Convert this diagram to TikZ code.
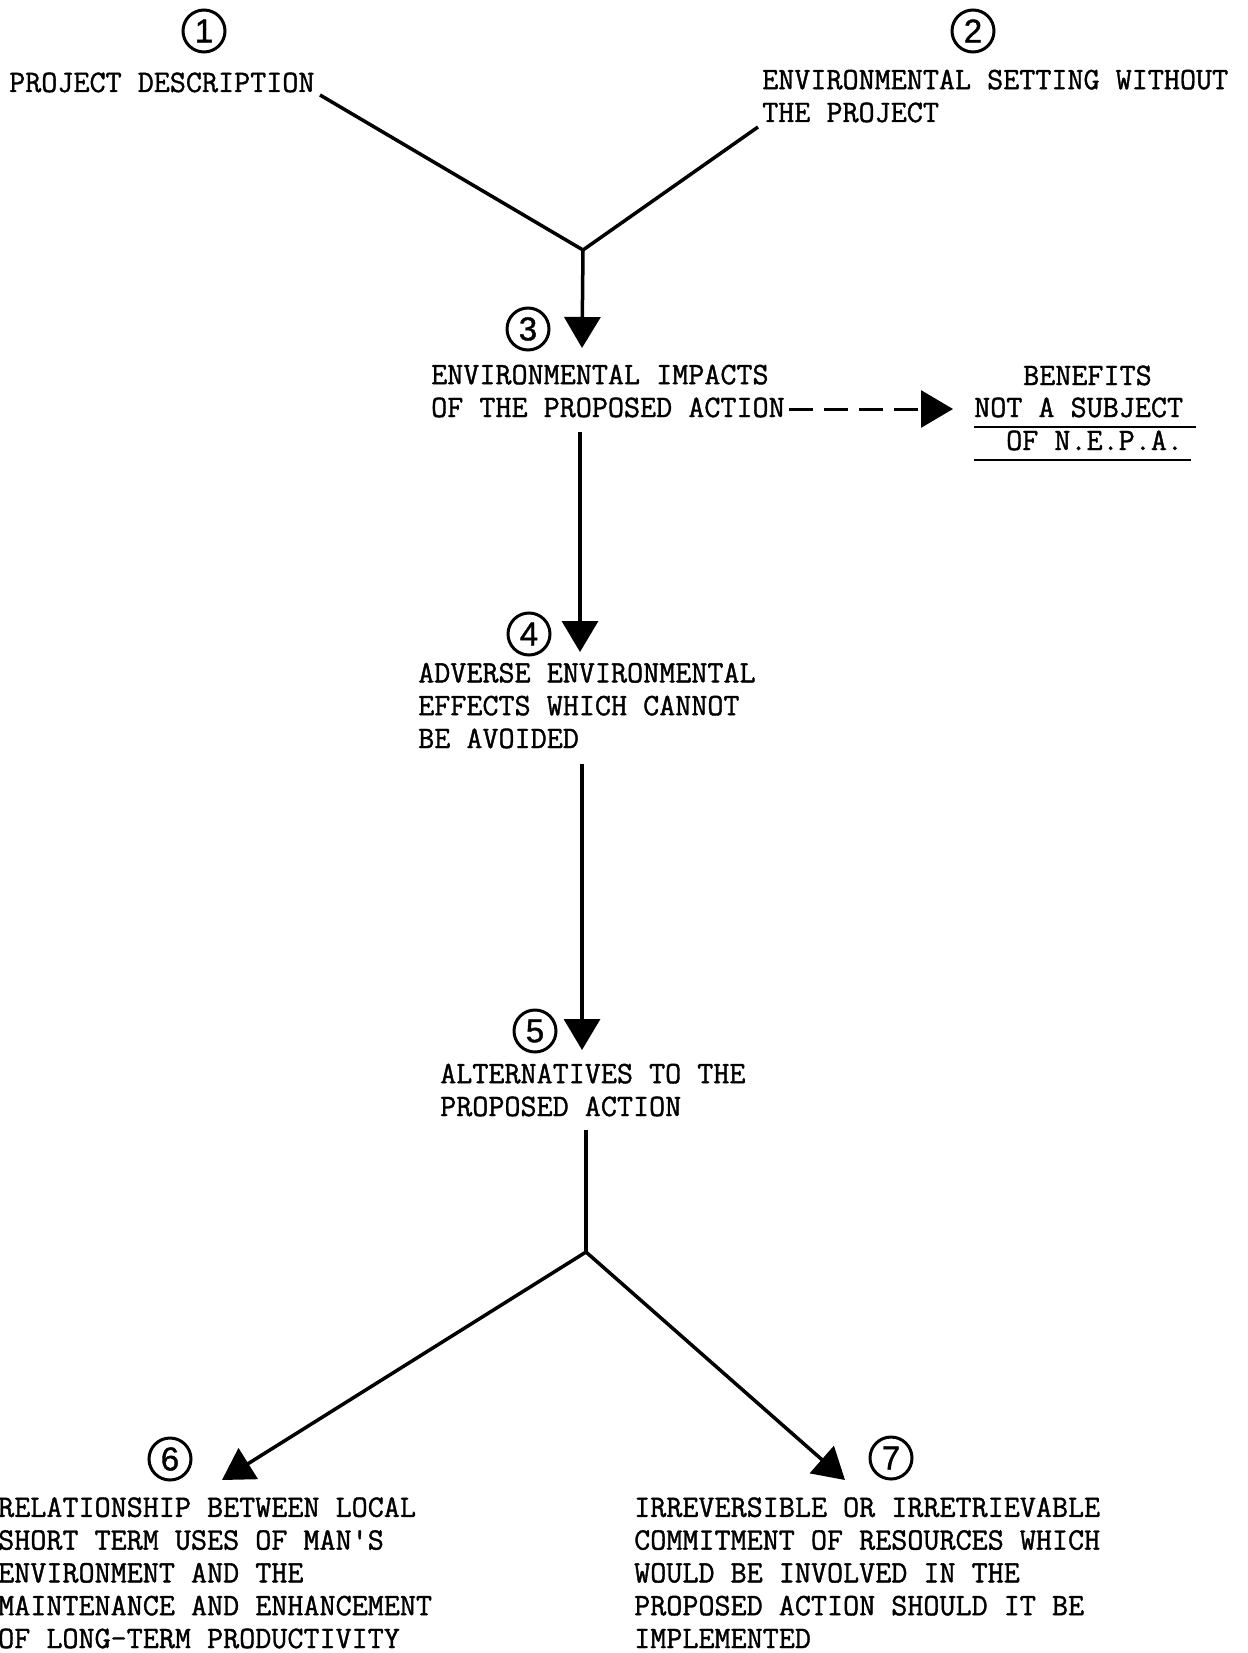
\documentclass[tikz,border=0pt]{standalone}
\usepackage{fontspec}
\setmonofont{Latin Modern Mono}[FakeBold=1.2]
\newfontfamily\digitfont{Liberation Sans}[FakeBold=1.2]
\usetikzlibrary{arrows.meta}
\begin{document}
\begin{tikzpicture}[x=1pt,y=-1pt,
  txt/.style={font=\ttfamily\fontsize{31.2}{32.8}\selectfont, inner sep=0pt, anchor=base west, align=left},
  num/.style={circle, draw, line width=3pt, minimum size=42pt, inner sep=0pt, font=\digitfont\fontsize{33}{33}\selectfont},
  conn/.style={line width=3.5pt},
  arr/.style={line width=3.5pt, -{Triangle[length=31pt,width=36pt]}},
  dasharr/.style={line width=3pt, dash pattern=on 24pt off 11pt, -{Triangle[length=32pt,width=37pt]}},
  uline/.style={line width=2.8pt}
]
\useasboundingbox (0,0) rectangle (1247,1653);

% circled numbers
\node[num] (c1) at (204,31) {1};
\node[num] (c2) at (973,31) {2};
\node[num] (c3) at (528,329) {3};
\node[num] (c4) at (529,634) {4};
\node[num] (c5) at (535,1031) {5};
\node[num] (c6) at (170,1459) {6};
\node[num] (c7) at (891,1458) {7};

% texts (anchor = baseline of the last line)
\node[txt] (t1) at (9,92) {PROJECT DESCRIPTION};
\node[txt] (t2) at (762,122) {ENVIRONMENTAL SETTING WITHOUT\\THE PROJECT};
\node[txt] (t3) at (431,417) {ENVIRONMENTAL IMPACTS\\OF THE PROPOSED ACTION};
\node[txt] (b1) at (1023,385) {BENEFITS};
\node[txt] (b2) at (974,417) {NOT A SUBJECT};
\node[txt] (b3) at (1006,450) {OF N.E.P.A.};
\node[txt] (t4) at (418,748) {ADVERSE ENVIRONMENTAL\\EFFECTS WHICH CANNOT\\BE AVOIDED};
\node[txt] (t5) at (440,1116) {ALTERNATIVES TO THE\\PROPOSED ACTION};
\node[txt] (t6) at (-2,1648) {RELATIONSHIP BETWEEN LOCAL\\SHORT TERM USES OF MAN'S\\ENVIRONMENT AND THE\\MAINTENANCE AND ENHANCEMENT\\OF LONG-TERM PRODUCTIVITY};
\node[txt] (t7) at (634,1648) {IRREVERSIBLE OR IRRETRIEVABLE\\COMMITMENT OF RESOURCES WHICH\\WOULD BE INVOLVED IN THE\\PROPOSED ACTION SHOULD IT BE\\IMPLEMENTED};

% connector points
\coordinate (p1) at (320,95);
\coordinate (p2) at (758,127);
\coordinate (j1) at (583,250);
\coordinate (a3) at (582,348);
\coordinate (s3) at (580,432);
\coordinate (a4) at (580,652);
\coordinate (s4) at (582,764);
\coordinate (a5) at (582,1050);
\coordinate (s5) at (586,1130);
\coordinate (j2) at (586,1252);
\coordinate (a6) at (222,1480);
\coordinate (a7) at (845,1480);
\coordinate (d0) at (789,409);
\coordinate (d1) at (953,409);
\coordinate (u1a) at (974,427);
\coordinate (u1b) at (1196,427);
\coordinate (u2a) at (974,460);
\coordinate (u2b) at (1191,460);

% connectors
\draw[conn] (p1) -- (j1) -- (p2);
\draw[arr] (j1) -- (a3);
\draw[arr] (s3) -- (a4);
\draw[arr] (s4) -- (a5);
\draw[conn] (s5) -- (j2);
\draw[arr] (j2) -- (a6);
\draw[arr] (j2) -- (a7);
\draw[dasharr] (d0) -- (d1);
\draw[uline] (u1a) -- (u1b);
\draw[uline] (u2a) -- (u2b);
\end{tikzpicture}
\end{document}
